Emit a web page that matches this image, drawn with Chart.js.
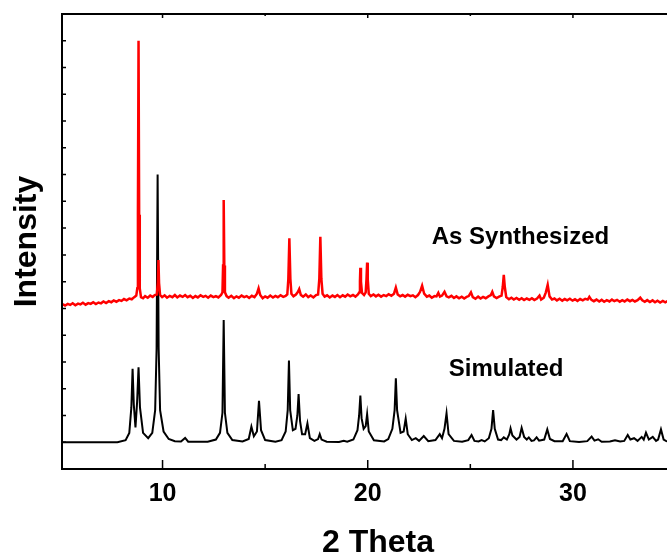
<!DOCTYPE html>
<html>
<head>
<meta charset="utf-8">
<script src="https://cdn.jsdelivr.net/npm/chart.js@4"></script>
<style>
  html, body { margin: 0; background: #fff; overflow: hidden; }
  /* the figure is wider than the window and gets cut on the right, like the original */
  #wrap { width: 694px; height: 558px; }
</style>
</head>
<body>
<div id="wrap"><canvas id="myChart"></canvas></div>
<script>
// x tick labels shown on the 2 Theta axis
var xTickLabels = [10, 20, 30];
var seriesNames = ['As Synthesized', 'Simulated'];

// simulated pattern: [2 theta, intensity]
var simulated = [
  [5.0,1.0],[7.8,1.0],[8.2,1.08],[8.38,1.35],[8.48,2.3],[8.54,3.74],[8.6,2.4],[8.68,1.55],[8.76,2.5],[8.83,3.8],
  [8.9,2.3],[9.05,1.35],[9.3,1.15],[9.5,1.35],[9.64,2.2],[9.71,4.5],[9.76,11.0],[9.81,4.5],[9.88,2.2],[10.05,1.4],
  [10.3,1.12],[10.6,1.04],[10.9,1.03],[11.1,1.16],[11.25,1.02],[12.2,1.02],[12.6,1.1],[12.8,1.35],[12.92,2.1],[12.98,5.57],
  [13.04,2.1],[13.16,1.35],[13.4,1.08],[13.9,1.03],[14.2,1.12],[14.33,1.58],[14.45,1.22],[14.6,1.4],[14.7,2.55],[14.8,1.45],
  [15.0,1.08],[15.5,1.02],[15.8,1.08],[16.0,1.4],[16.1,2.2],[16.16,4.05],[16.22,2.2],[16.35,1.45],[16.48,1.5],[16.57,2.0],
  [16.63,2.8],[16.7,1.8],[16.8,1.3],[16.95,1.3],[17.06,1.7],[17.18,1.15],[17.4,1.05],[17.58,1.12],[17.66,1.3],[17.75,1.1],
  [18.0,1.02],[18.6,1.01],[18.83,1.05],[19.0,1.02],[19.3,1.1],[19.5,1.45],[19.58,2.0],[19.64,2.74],[19.7,1.9],[19.8,1.5],
  [19.9,1.6],[19.97,2.05],[20.05,1.4],[20.3,1.07],[20.8,1.03],[21.0,1.12],[21.2,1.5],[21.31,2.2],[21.37,3.39],[21.43,2.2],
  [21.6,1.35],[21.75,1.4],[21.85,1.88],[21.95,1.3],[22.15,1.08],[22.34,1.15],[22.5,1.05],[22.73,1.23],[22.95,1.04],[23.3,1.08],
  [23.51,1.3],[23.62,1.15],[23.74,1.5],[23.84,2.08],[23.94,1.3],[24.2,1.05],[24.6,1.02],[24.9,1.08],[25.06,1.27],[25.2,1.05],
  [25.4,1.03],[25.55,1.08],[25.7,1.03],[25.9,1.15],[26.03,1.5],[26.11,2.2],[26.19,1.5],[26.35,1.1],[26.5,1.08],[26.63,1.18],
  [26.78,1.1],[26.9,1.3],[26.96,1.52],[27.05,1.25],[27.25,1.1],[27.4,1.2],[27.5,1.54],[27.62,1.2],[27.75,1.1],[27.85,1.18],
  [27.98,1.05],[28.1,1.07],[28.23,1.18],[28.35,1.06],[28.6,1.1],[28.75,1.48],[28.88,1.12],[29.1,1.04],[29.5,1.04],[29.69,1.31],
  [29.85,1.04],[30.3,1.01],[30.7,1.04],[30.91,1.21],[31.05,1.06],[31.23,1.11],[31.4,1.02],[31.8,1.03],[32.05,1.07],[32.3,1.03],
  [32.5,1.05],[32.67,1.27],[32.8,1.1],[32.98,1.15],[33.15,1.05],[33.35,1.2],[33.45,1.1],[33.56,1.36],[33.7,1.1],[33.89,1.2],
  [34.05,1.05],[34.15,1.1],[34.29,1.48],[34.42,1.1],[34.55,1.04],[34.7,1.02]
];

// measured (as synthesized) pattern: [2 theta, intensity]
var synthesized = [
  [5.00,6.10],[5.12,6.16],[5.25,6.11],[5.38,6.17],[5.50,6.13],[5.62,6.19],[5.75,6.12],[5.88,6.18],[6.00,6.15],[6.12,6.21],
  [6.25,6.14],[6.38,6.20],[6.50,6.17],[6.62,6.23],[6.75,6.16],[6.88,6.22],[7.00,6.19],[7.12,6.26],[7.25,6.20],[7.38,6.27],
  [7.50,6.23],[7.62,6.30],[7.75,6.25],[7.88,6.31],[8.00,6.28],[8.12,6.35],[8.25,6.30],[8.38,6.37],[8.50,6.34],[8.62,6.42],
  [8.72,6.48],[8.77,6.75],[8.80,9.5],[8.83,16.0],[8.86,9.5],[8.89,6.75],[8.95,6.42],[9.05,6.38],[9.15,6.46],[9.28,6.40],
  [9.40,6.48],[9.52,6.43],[9.62,6.50],[9.72,6.52],[9.77,6.95],[9.80,7.81],[9.83,6.95],[9.88,6.50],[9.98,6.42],[10.10,6.49],
  [10.22,6.40],[10.35,6.47],[10.48,6.42],[10.60,6.50],[10.72,6.41],[10.85,6.48],[10.98,6.43],[11.10,6.50],[11.22,6.42],[11.35,6.47],
  [11.48,6.39],[11.60,6.46],[11.72,6.41],[11.85,6.49],[11.98,6.43],[12.10,6.47],[12.22,6.40],[12.35,6.48],[12.48,6.42],[12.60,6.46],
  [12.72,6.41],[12.85,6.50],[12.92,6.60],[12.95,7.6],[12.98,10.05],[13.01,7.6],[13.04,6.6],[13.12,6.46],[13.22,6.40],[13.35,6.47],
  [13.48,6.38],[13.60,6.45],[13.72,6.40],[13.85,6.48],[13.98,6.42],[14.10,6.46],[14.22,6.39],[14.35,6.47],[14.48,6.42],[14.60,6.55],
  [14.68,6.75],[14.76,6.50],[14.88,6.38],[15.00,6.45],[15.12,6.40],[15.25,6.48],[15.38,6.41],[15.50,6.47],[15.62,6.42],[15.75,6.49],
  [15.88,6.43],[16.00,6.47],[16.08,6.52],[16.13,7.1],[16.18,8.62],[16.23,7.1],[16.28,6.55],[16.38,6.45],[16.50,6.52],[16.60,6.62],
  [16.66,6.72],[16.74,6.50],[16.85,6.44],[16.98,6.52],[17.10,6.42],[17.22,6.48],[17.35,6.41],[17.48,6.50],[17.58,6.52],[17.64,7.1],
  [17.69,8.68],[17.74,7.1],[17.80,6.55],[17.90,6.44],[18.02,6.49],[18.15,6.41],[18.28,6.48],[18.40,6.43],[18.52,6.50],[18.65,6.42],
  [18.78,6.49],[18.90,6.44],[19.02,6.52],[19.15,6.45],[19.28,6.50],[19.40,6.44],[19.52,6.52],[19.59,6.6],[19.62,7.0],[19.64,7.52],
  [19.67,7.0],[19.72,6.58],[19.82,6.50],[19.90,6.6],[19.94,7.1],[19.97,7.71],[20.00,7.1],[20.05,6.55],[20.15,6.46],[20.28,6.52],
  [20.40,6.45],[20.52,6.51],[20.65,6.44],[20.78,6.50],[20.90,6.46],[21.02,6.53],[21.15,6.47],[21.28,6.55],[21.37,6.78],[21.46,6.52],
  [21.58,6.45],[21.70,6.50],[21.82,6.44],[21.95,6.51],[22.08,6.46],[22.20,6.49],[22.32,6.42],[22.45,6.50],[22.55,6.62],[22.65,6.85],
  [22.75,6.55],[22.88,6.44],[23.00,6.48],[23.12,6.40],[23.25,6.46],[23.35,6.45],[23.44,6.58],[23.52,6.44],[23.62,6.48],[23.74,6.62],
  [23.84,6.45],[23.95,6.41],[24.08,6.47],[24.20,6.39],[24.32,6.45],[24.45,6.38],[24.58,6.44],[24.70,6.37],[24.82,6.43],[24.92,6.46],
  [25.03,6.60],[25.12,6.42],[25.25,6.36],[25.38,6.44],[25.50,6.37],[25.62,6.43],[25.75,6.38],[25.88,6.45],[26.00,6.50],[26.07,6.62],
  [26.15,6.45],[26.28,6.39],[26.40,6.44],[26.52,6.48],[26.58,6.8],[26.63,7.25],[26.68,6.8],[26.75,6.42],[26.88,6.34],[27.00,6.40],
  [27.12,6.33],[27.25,6.39],[27.38,6.32],[27.50,6.38],[27.62,6.31],[27.75,6.37],[27.88,6.32],[28.00,6.38],[28.12,6.31],[28.25,6.37],
  [28.37,6.48],[28.45,6.33],[28.58,6.40],[28.68,6.60],[28.77,6.88],[28.86,6.45],[28.98,6.33],[29.10,6.37],[29.22,6.30],[29.35,6.36],
  [29.48,6.29],[29.60,6.35],[29.72,6.30],[29.85,6.36],[29.98,6.29],[30.10,6.34],[30.22,6.28],[30.35,6.35],[30.48,6.30],[30.60,6.36],
  [30.72,6.33],[30.80,6.43],[30.90,6.32],[31.02,6.27],[31.15,6.33],[31.28,6.26],[31.40,6.32],[31.52,6.25],[31.65,6.31],[31.78,6.26],
  [31.90,6.33],[32.02,6.27],[32.15,6.32],[32.28,6.25],[32.40,6.31],[32.52,6.26],[32.65,6.33],[32.78,6.27],[32.90,6.32],[33.02,6.26],
  [33.15,6.31],[33.28,6.40],[33.38,6.30],[33.50,6.25],[33.62,6.31],[33.75,6.24],[33.88,6.30],[34.00,6.23],[34.12,6.29],[34.25,6.22],
  [34.38,6.28],[34.50,6.23],[34.60,6.27],[34.70,6.22]
];

function toPoints(pairs){
    return pairs.map(function(p){ return {x: p[0], y: p[1]}; });
}

var FONT = "'Liberation Sans', Arial, sans-serif";

// axis frame, inward ticks and the two curve labels
var framePlugin = {
  id: 'frame',
  afterDraw: function(chart){
    var ctx = chart.ctx;
    var a = chart.chartArea;
    var xs = chart.scales.x, ys = chart.scales.y;
    ctx.save();
    ctx.strokeStyle = '#000';
    ctx.lineWidth = 2;
    ctx.beginPath();
    ctx.moveTo(a.right, a.top); ctx.lineTo(a.left, a.top);
    ctx.lineTo(a.left, a.bottom); ctx.lineTo(a.right, a.bottom);
    ctx.stroke();

    ctx.lineWidth = 1.5;
    ctx.beginPath();
    xs.ticks.forEach(function(t){
      if (t.value <= xs.min || t.value % 5 !== 0) return;
      var px = xs.getPixelForValue(t.value);
      var major = t.value % 10 === 0;
      ctx.moveTo(px, a.bottom); ctx.lineTo(px, a.bottom - (major ? 9 : 5));
      ctx.moveTo(px, a.top); ctx.lineTo(px, a.top + (major ? 4 : 2));
    });
    ys.ticks.forEach(function(t){
      var py = ys.getPixelForValue(t.value);
      ctx.moveTo(a.left, py); ctx.lineTo(a.left + 4, py);
    });
    ctx.stroke();

    ctx.fillStyle = '#000';
    ctx.font = 'bold 24px ' + FONT;
    ctx.textBaseline = 'middle';
    ctx.textAlign = 'left';
    ctx.fillText(seriesNames[0], xs.getPixelForValue(23.12), ys.getPixelForValue(8.67));
    ctx.fillText(seriesNames[1], xs.getPixelForValue(23.95), ys.getPixelForValue(3.74));
    ctx.restore();
  }
};

var ctx = document.getElementById("myChart");
var myChart = new Chart(ctx, {
  type: 'line',
  data: {
    datasets: [
      {
        label: seriesNames[0],
        data: toPoints(synthesized),
        borderColor: "#ff0000",
        borderWidth: 2.5,
        pointRadius: 0
      },
      {
        label: seriesNames[1],
        data: toPoints(simulated),
        borderColor: "#000000",
        borderWidth: 2,
        pointRadius: 0
      }
    ]
  },
  options: {
    responsive: true,
    maintainAspectRatio: false,
    animation: false,
    layout: { autoPadding: false, padding: { top: 14, right: 0, left: 0, bottom: 0 } },
    plugins: { legend: { display: false }, tooltip: { enabled: false } },
    scales: {
      x: {
        type: 'linear',
        min: 5.1,
        max: 35.9,
        afterFit: function(s){ s.height = 89; s.paddingLeft = 0; s.paddingRight = 0; },
        grid: { display: false, drawTicks: false },
        border: { display: false },
        ticks: {
          stepSize: 5,
          autoSkip: false,
          maxRotation: 0,
          padding: 10,
          color: '#000',
          font: { family: FONT, size: 25, weight: 'bold' },
          callback: function(v){ return xTickLabels.indexOf(v) >= 0 ? String(v) : ''; }
        },
        title: {
          display: true,
          text: '2 Theta',
          color: '#000',
          font: { family: FONT, size: 32, weight: 'bold' },
          padding: { top: 0, bottom: -4 }
        }
      },
      y: {
        min: 0,
        max: 17,
        afterFit: function(s){ s.width = 62; },
        grid: { display: false, drawTicks: false },
        border: { display: false },
        ticks: { display: false, stepSize: 1, maxTicksLimit: 30 },
        title: {
          display: true,
          text: 'Intensity',
          color: '#000',
          font: { family: FONT, size: 32, weight: 'bold' },
          padding: { top: 8, bottom: 0 }
        }
      }
    }
  },
  plugins: [framePlugin]
});
</script>
</body>
</html>
